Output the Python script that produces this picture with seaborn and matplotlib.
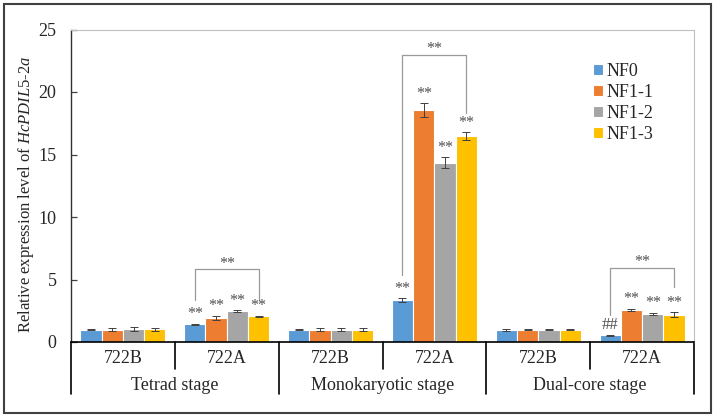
import numpy as np
import pandas as pd
import matplotlib
matplotlib.use("Agg")
import matplotlib.pyplot as plt
import matplotlib.transforms as mtransforms
from matplotlib.patches import Rectangle
import seaborn as sns

# data
stages = ["Tetrad stage", "Monokaryotic stage", "Dual-core stage"]
lines = ["722B", "722A"]
treatments = ["NF0", "NF1-1", "NF1-2", "NF1-3"]
colors = ["#5B9BD5", "#ED7D31", "#A5A5A5", "#FFC000"]

nf0 = [1.00, 1.43, 1.00, 3.35, 1.00, 0.55]
nf1_1 = [1.00, 1.95, 1.00, 18.55, 1.00, 2.58]
nf1_2 = [1.05, 2.48, 1.00, 14.35, 1.00, 2.25]
nf1_3 = [1.03, 2.05, 1.00, 16.50, 1.00, 2.17]

err_nf0 = [0.03, 0.05, 0.05, 0.15, 0.08, 0.04]
err_nf1_1 = [0.12, 0.15, 0.10, 0.55, 0.02, 0.08]
err_nf1_2 = [0.15, 0.08, 0.12, 0.45, 0.02, 0.10]
err_nf1_3 = [0.12, 0.05, 0.10, 0.30, 0.05, 0.20]

# significance marks per bar (categories x treatments)
marks = [
    ["", "", "", ""],
    ["**", "**", "**", "**"],
    ["", "", "", ""],
    ["**", "**", "**", "**"],
    ["", "", "", ""],
    ["##", "**", "**", "**"],
]
# brackets: category index, top, left leg bottom, right leg bottom
bracket_cat = [1, 3, 5]
bracket_top = [5.85, 23.0, 5.95]
bracket_left = [3.4, 5.4, 2.2]
bracket_right = [3.4, 18.3, 4.4]

cats = [s + "|" + l for s in stages for l in lines]
values = [nf0, nf1_1, nf1_2, nf1_3]
errors = [err_nf0, err_nf1_1, err_nf1_2, err_nf1_3]

df = pd.DataFrame({
    "cat": np.tile(cats, len(treatments)),
    "treat": np.repeat(treatments, len(cats)),
    "val": np.concatenate(values),
})

sns.set_style("ticks")
plt.rcParams["font.family"] = ["Liberation Serif", "DejaVu Serif"]
plt.rcParams["mathtext.fontset"] = "custom"
plt.rcParams["mathtext.rm"] = "Liberation Serif"
plt.rcParams["mathtext.it"] = "Liberation Serif:italic"

fig = plt.figure(figsize=(7.15, 4.17), dpi=100)
ax = fig.add_axes([71 / 715, 1 - 342 / 417, 623 / 715, 312.5 / 417])

sns.barplot(data=df, x="cat", y="val", hue="treat", order=cats, hue_order=treatments,
            palette=colors, saturation=1, errorbar=None, width=0.82, edgecolor="white",
            linewidth=0.8, legend=False, ax=ax)
bar_conts = list(ax.containers)

# error bars and marks
for t, cont in enumerate(bar_conts):
    for c, bar in enumerate(cont):
        xc = bar.get_x() + bar.get_width() / 2
        v = values[t][c]
        e = errors[t][c]
        ax.errorbar(xc, v, yerr=e, fmt="none", ecolor="#404040", elinewidth=0.7,
                    capsize=3, capthick=0.7)
        m = marks[c][t]
        if m:
            ax.annotate(m, (xc, v + e), xytext=(0, 1), textcoords="offset points",
                        ha="center", va="bottom", fontsize=11.5 if m == "**" else 12,
                        color="#505050")

# brackets from first to last bar of a category
for b, c in enumerate(bracket_cat):
    b0 = bar_conts[0][c]
    b3 = bar_conts[3][c]
    x0 = b0.get_x() + b0.get_width() / 2
    x1 = b3.get_x() + b3.get_width() / 2
    ax.plot([x0, x0, x1, x1], [bracket_left[b], bracket_top[b], bracket_top[b], bracket_right[b]],
            color="#9a9a9a", lw=0.9)
    ax.annotate("**", ((x0 + x1) / 2, bracket_top[b]), xytext=(0, -2),
                textcoords="offset points", ha="center", va="bottom", fontsize=11.5,
                color="#505050")

ax.set_ylim(0, 25)
ax.set_xlim(-0.5, len(cats) - 0.5)
ax.set_yticks([0, 5, 10, 15, 20, 25])
ax.tick_params(axis="y", direction="in", length=4.5, width=0.9, color="#404040",
               labelsize=13, pad=10.5)
ax.set_xticks(range(len(cats)))
ax.set_xticklabels([c.split("|")[1] for c in cats])
ax.tick_params(axis="x", length=0, labelsize=13, pad=6)
ax.set_xlabel("")
ax.set_ylabel(r"Relative expression level of $\it{HcPDIL5}$-$\it{2a}$", fontsize=12)
ax.yaxis.set_label_coords(-0.056, 0.474)

for s in ["top", "right"]:
    ax.spines[s].set_color("#c0c0c0")
    ax.spines[s].set_linewidth(0.8)
ax.spines["left"].set_color("#303030")
ax.spines["left"].set_linewidth(1.0)
ax.spines["bottom"].set_color("black")
ax.spines["bottom"].set_linewidth(1.2)

# hierarchical category axis
trans = mtransforms.blended_transform_factory(ax.transData, ax.transAxes)
for i in range(len(cats) + 1):
    xb = i - 0.5
    low = -0.166 if i % 2 == 0 else -0.086
    ax.plot([xb, xb], [0, low], transform=trans, color="black", lw=1.2, clip_on=False)
for k, s in enumerate(stages):
    ax.text(2 * k + 0.5, -0.138, s, transform=trans, ha="center", va="center", fontsize=13)

leg = ax.legend(bar_conts, treatments, loc="upper left", bbox_to_anchor=(0.826, 0.915),
                frameon=False, prop={"family": "Liberation Serif", "size": 13},
                handlelength=0.55, handleheight=0.55, handletextpad=0.2, labelspacing=0.22,
                borderaxespad=0)

fig.patches.append(Rectangle((4 / 715, 4 / 417), 707 / 715, 409 / 417, transform=fig.transFigure,
                             fill=False, edgecolor="#404040", linewidth=1.5))

fig.savefig("out.png", dpi=100)
